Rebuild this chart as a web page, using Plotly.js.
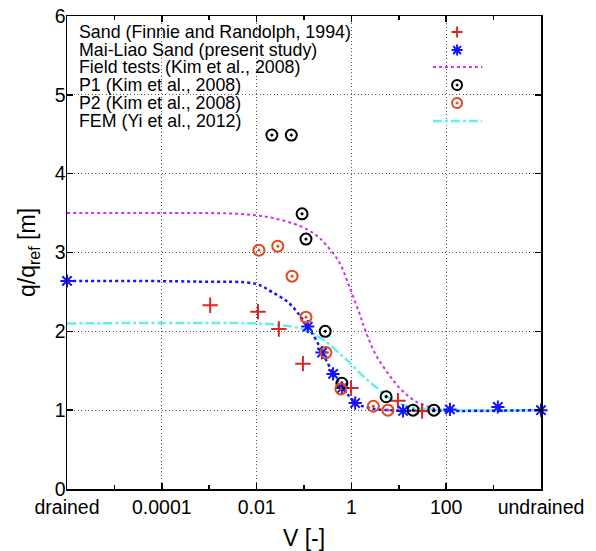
<!DOCTYPE html>
<html>
<head>
<meta charset="utf-8">
<script src="https://cdn.plot.ly/plotly-3.0.1.min.js"></script>
<style>html,body{margin:0;padding:0;background:#fff;}#chart{width:596px;height:551px;}</style>
</head>
<body>
<div id="chart"></div>
<script>
// ---- data ----
const xTickVals = [1e-6, 1e-4, 1e-2, 1, 100, 1e4];
const xTickText = ['drained', '0.0001', '0.01', '1', '100', 'undrained'];
const xMinorVals = [1e-5, 1e-3, 0.1, 10, 1000];

const seriesNames = [
  'Sand (Finnie and Randolph, 1994)',
  'Mai-Liao Sand (present study)',
  'Field tests (Kim et al., 2008)',
  'P1 (Kim et al., 2008)',
  'P2 (Kim et al., 2008)',
  'FEM (Yi et al., 2012)'
];

const sandV = [0.00105, 0.0107, 0.0295, 0.095, 0.98, 9.6, 31];
const sandQ = [2.33, 2.25, 2.03, 1.59, 1.28, 1.12, 0.99];

const maiV = [1e-6, 0.12, 0.24, 0.41, 0.63, 1.2, 12.3, 120, 1230, 1e4];
const maiQ = [2.64, 2.06, 1.73, 1.46, 1.28, 1.09, 0.99, 1.01, 1.04, 1.0];

const maiCurveV = [1e-6, 0.0006, 0.0098, 0.021, 0.048, 0.079, 0.12, 0.18, 0.29, 0.47, 0.78, 1.26, 2.3, 6.2, 1e4];
const maiCurveQ = [2.64, 2.63, 2.60, 2.50, 2.36, 2.21, 2.06, 1.89, 1.64, 1.41, 1.22, 1.09, 1.03, 1.0, 1.0];

const fieldV = [1e-6, 1e-3, 0.0043, 0.01, 0.021, 0.079, 0.18, 0.29, 0.55, 0.89, 1.45, 2.0, 3.16, 6.2, 11.7, 22.9, 43.7, 81, 1e4];
const fieldQ = [3.5, 3.5, 3.49, 3.47, 3.44, 3.34, 3.22, 3.1, 2.88, 2.58, 2.24, 2.0, 1.72, 1.45, 1.25, 1.11, 1.04, 1.0, 1.0];

const p1V = [0.021, 0.054, 0.091, 0.11, 0.28, 0.63, 5.4, 20, 55];
const p1Q = [4.49, 4.49, 3.49, 3.17, 2.00, 1.34, 1.17, 1.0, 1.0];

const p2V = [0.0112, 0.028, 0.056, 0.11, 0.29, 0.6, 2.9, 5.9];
const p2Q = [3.03, 3.08, 2.70, 2.18, 1.73, 1.27, 1.05, 1.0];

const femV = [1e-6, 0.01, 0.03, 0.056, 0.1, 0.18, 0.32, 0.56, 1, 1.78, 3.16, 5.6, 10, 17.8, 31.6, 100, 1e4];
const femQ = [2.10, 2.10, 2.08, 2.06, 2.02, 1.95, 1.85, 1.72, 1.58, 1.43, 1.30, 1.18, 1.09, 1.04, 1.02, 1.0, 1.0];

// ---- styles ----
const cRed = '#d8262a', cBlue = '#1414ff', cMag = '#cc33ee', cBlack = '#000000', cOrange = '#dd4a22', cCyan = '#66eeee';
const FONT = 'Liberation Sans, Arial, Helvetica, sans-serif';

const traces = [
  {x: fieldV, y: fieldQ, mode: 'lines', line: {color: cMag, width: 2, dash: 'dot', shape: 'spline'}, name: seriesNames[2]},
  {x: femV, y: femQ, mode: 'lines', line: {color: cCyan, width: 2.5, dash: 'dashdot', shape: 'spline'}, name: seriesNames[5]},
  {x: maiCurveV, y: maiCurveQ, mode: 'lines', line: {color: cBlue, width: 2.5, dash: 'dot', shape: 'spline'}, name: seriesNames[1] + ' curve'},
  {x: sandV, y: sandQ, mode: 'markers', cliponaxis: false, marker: {symbol: 'cross-thin-open', size: 11, color: cRed, line: {color: cRed, width: 2}}, name: seriesNames[0]},
  {x: maiV, y: maiQ, mode: 'markers', cliponaxis: false, marker: {symbol: 'asterisk-open', size: 11, color: cBlue, line: {color: cBlue, width: 2}}, name: seriesNames[1]},
  {x: p1V, y: p1Q, mode: 'markers', cliponaxis: false, marker: {symbol: 'circle-open-dot', size: 11, color: cBlack, line: {color: cBlack, width: 2}}, name: seriesNames[3]},
  {x: p2V, y: p2Q, mode: 'markers', cliponaxis: false, marker: {symbol: 'circle-open-dot', size: 11, color: cOrange, line: {color: cOrange, width: 2}}, name: seriesNames[4]}
];

// ---- manual legend (text left, sample right, as in the reference) ----
const legRowsY = [0.966, 0.928, 0.892, 0.854, 0.816, 0.778];
const legTextX = 0.021, legSampleX = 0.823, legLine0 = 0.772, legLine1 = 0.876;
const annotations = seriesNames.map((n, i) => ({
  xref: 'paper', yref: 'paper', x: legTextX, y: legRowsY[i], xanchor: 'left', yanchor: 'middle',
  text: n, showarrow: false, font: {family: FONT, size: 17.8, color: '#000'}
}));
function pix(path, i, color, w) {
  return {type: 'path', xref: 'paper', yref: 'paper', xsizemode: 'pixel', ysizemode: 'pixel',
    xanchor: legSampleX, yanchor: legRowsY[i], path: path, line: {color: color, width: w}};
}
function circ(i, color, r, fill, w) {
  return {type: 'circle', xref: 'paper', yref: 'paper', xsizemode: 'pixel', ysizemode: 'pixel',
    xanchor: legSampleX, yanchor: legRowsY[i], x0: -r, x1: r, y0: -r, y1: r,
    line: {color: color, width: w}, fillcolor: fill};
}
const shapes = [
  {type: 'rect', xref: 'paper', yref: 'paper', x0: 0.003, x1: 0.897, y0: 0.759, y1: 0.997, layer: 'between', line: {width: 0}, fillcolor: '#ffffff'},
  pix('M-5.5,0H5.5M0,-5.5V5.5', 0, cRed, 2),
  pix('M-5.5,0H5.5M0,-5.5V5.5M-3.9,-3.9L3.9,3.9M-3.9,3.9L3.9,-3.9', 1, cBlue, 2),
  {type: 'line', xref: 'paper', yref: 'paper', x0: legLine0, x1: legLine1, y0: legRowsY[2], y1: legRowsY[2], line: {color: cMag, width: 2, dash: 'dot'}},
  circ(3, cBlack, 5, 'rgba(0,0,0,0)', 2), circ(3, cBlack, 1, cBlack, 1),
  circ(4, cOrange, 5, 'rgba(0,0,0,0)', 2), circ(4, cOrange, 1, cOrange, 1),
  {type: 'line', xref: 'paper', yref: 'paper', x0: legLine0, x1: legLine1, y0: legRowsY[5], y1: legRowsY[5], line: {color: cCyan, width: 2.5, dash: 'dashdot'}}
];

const layout = {
  width: 596, height: 551,
  margin: {l: 67, r: 55, t: 16, b: 62, pad: 0},
  paper_bgcolor: '#fff', plot_bgcolor: '#fff',
  showlegend: false,
  font: {family: FONT, size: 19, color: '#000'},
  xaxis: {
    type: 'log', range: [-6, 4], tickmode: 'array', tickvals: xTickVals, ticktext: xTickText,
    ticks: 'inside', ticklen: 6, tickwidth: 1.5, tickcolor: '#000',
    showline: true, linecolor: '#000', linewidth: 1.5, mirror: 'allticks',
    showgrid: true, gridcolor: '#555', griddash: '1px,2.5px', gridwidth: 1,
    zeroline: false, tickfont: {family: FONT, size: 19.5},
    minor: {tickmode: 'array', tickvals: xMinorVals, ticks: 'inside', ticklen: 4, tickwidth: 1.5, tickcolor: '#000', showgrid: false},
    title: {text: 'V [-]', font: {family: FONT, size: 23}, standoff: 14}
  },
  yaxis: {
    range: [0, 6], tickmode: 'linear', tick0: 0, dtick: 1,
    ticks: 'inside', ticklen: 6, tickwidth: 1.5, tickcolor: '#000',
    showline: true, linecolor: '#000', linewidth: 1.5, mirror: 'allticks',
    showgrid: true, gridcolor: '#555', griddash: '1px,2.5px', gridwidth: 1,
    zeroline: false, tickfont: {family: FONT, size: 19.5}, ticklabelstandoff: -4,
    title: {text: 'q/q<sub>ref</sub> [m]', font: {family: FONT, size: 23}, standoff: 12}
  },
  annotations: annotations,
  shapes: shapes
};

Plotly.newPlot('chart', traces, layout, {displayModeBar: false, staticPlot: true});
</script>
</body>
</html>
